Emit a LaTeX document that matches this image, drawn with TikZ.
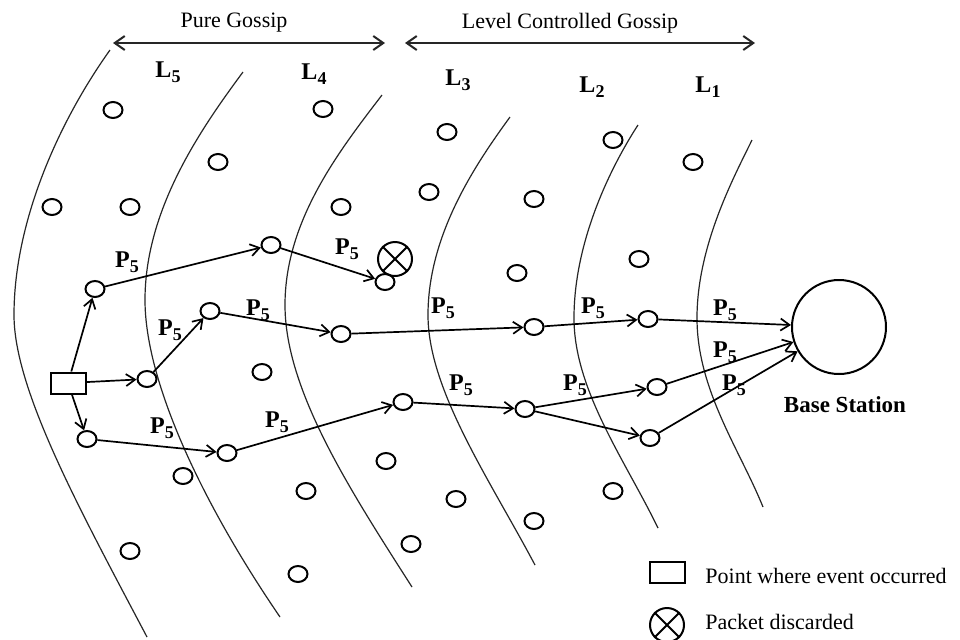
\documentclass[tikz,border=0pt]{standalone}
\usepackage{fontspec}
\setmainfont{Liberation Serif}
\usetikzlibrary{arrows.meta,shapes.geometric}
\newcommand\mysub[1]{\raisebox{-0.45ex}{\fontsize{9}{10}\selectfont #1}}
\begin{document}
\begin{tikzpicture}[x=0.5pt,y=-0.5pt,
  dot/.style={draw,ellipse,line width=1pt,minimum width=9.5pt,minimum height=8pt,inner sep=0pt},
  curve/.style={line width=0.6pt,black!85},
  arr/.style={-{Straight Barb[length=4.5pt,width=6pt]},line width=0.85pt},
  harr/.style={{Straight Barb[length=5pt,width=7pt]}-{Straight Barb[length=5pt,width=7pt]},line width=1pt,black!85},
  plab/.style={font=\fontsize{12}{13}\selectfont\bfseries,inner sep=0pt},
  llab/.style={font=\fontsize{12}{13}\selectfont\bfseries,inner sep=0pt},
  ttl/.style={font=\fontsize{11}{13}\selectfont,inner sep=0pt},
  evt/.style={draw,rectangle,line width=1pt,minimum width=17.5pt,minimum height=10.5pt,inner sep=0pt},
  xcirc/.style={draw,circle,line width=1pt,minimum size=17pt,inner sep=0pt}]
\useasboundingbox[fill=white] (0,0) rectangle (960,639);

% header
\coordinate (h1a) at (113,43); \coordinate (h1b) at (385,43);
\coordinate (h2a) at (405,43); \coordinate (h2b) at (755,43);
\draw[harr] (h1a) -- (h1b);
\draw[harr] (h2a) -- (h2b);
\node[ttl] (tpg) at (234,23) {Pure Gossip};
\node[ttl] (tlcg) at (570,23) {Level Controlled Gossip};

% level labels
\node[llab] (l5) at (168,72) {L\mysub{5}};
\node[llab] (l4) at (314,74) {L\mysub{4}};
\node[llab] (l3) at (458,80) {L\mysub{3}};
\node[llab] (l2) at (592,87) {L\mysub{2}};
\node[llab] (l1) at (708,87) {L\mysub{1}};

% level boundaries
\draw[curve] (110,50) .. controls (60,120) and (14,220) .. (14,315) .. controls (14,390) and (80,510) .. (147,637);
\draw[curve] (243,72) .. controls (200,130) and (145,210) .. (145,300) .. controls (145,380) and (200,500) .. (280,617);
\draw[curve] (382,95) .. controls (340,150) and (285,220) .. (285,305) .. controls (285,390) and (350,490) .. (412,587);
\draw[curve] (510,117) .. controls (475,165) and (428,235) .. (428,315) .. controls (428,390) and (490,480) .. (535,565);
\draw[curve] (638,125) .. controls (612,165) and (574,240) .. (574,318) .. controls (574,390) and (625,460) .. (658,528);
\draw[curve] (752,140) .. controls (735,175) and (697,245) .. (697,318) .. controls (697,390) and (740,450) .. (763,507);

% idle sensor nodes
\foreach \i/\p in {1/{(113,110)},2/{(323,109)},3/{(218,162)},4/{(52,207)},5/{(130,207)},6/{(341,207)},
  7/{(447,132)},8/{(429,192)},9/{(534,199)},10/{(517,273)},11/{(613,140)},12/{(693,162)},13/{(639,259)},
  14/{(262,372)},15/{(183,476)},16/{(306,491)},17/{(386,461)},18/{(456,499)},19/{(411,544)},
  20/{(130,551)},21/{(298,574)},22/{(534,521)},23/{(613,491)}}
  \node[dot] (n\i) at \p {};

% event and path nodes
\node[evt] (S) at (68,383) {};
\node[dot] (A) at (95,289) {};
\node[dot] (B) at (147,379) {};
\node[dot] (C) at (87,439) {};
\node[dot] (D) at (271,245) {};
\node[dot] (X) at (385,282) {};
\node[xcirc] (XC) at (395,259) {};
\draw[line width=1pt] (XC.north west) -- (XC.south east) (XC.north east) -- (XC.south west);
\node[dot] (E) at (210,311) {};
\node[dot] (F) at (341,334) {};
\node[dot] (G) at (534,327) {};
\node[dot] (H) at (648,319) {};
\node[dot] (I) at (227,453) {};
\node[dot] (J) at (403,402) {};
\node[dot] (K) at (525,409) {};
\node[dot] (L) at (657,387) {};
\node[dot] (M) at (650,438) {};
\node[draw,circle,line width=1pt,minimum size=47pt,inner sep=0pt] (BS) at (839,327) {};
\node[font=\fontsize{11.5}{13}\selectfont\bfseries,inner sep=0pt] (bst) at (845,405) {Base Station};

% connectors
\draw[arr] (S) -- (A);
\draw[arr] (S) -- (B);
\draw[arr] (S) -- (C);
\draw[arr] (A) -- (D);
\draw[arr] (D) -- (X);
\draw[arr] (B) -- (E);
\draw[arr] (E) -- (F);
\draw[arr] (F) -- (G);
\draw[arr] (G) -- (H);
\draw[arr] (H) -- (BS);
\draw[arr] (C) -- (I);
\draw[arr] (I) -- (J);
\draw[arr] (J) -- (K);
\draw[arr] (K) -- (L);
\draw[arr] (K) -- (M);
\draw[arr] (L) -- (BS);
\draw[arr] (M) -- (BS);

% P5 labels
\foreach \i/\p in {1/{(127,262)},2/{(347,249)},3/{(258,310)},4/{(170,330)},5/{(443,308)},6/{(593,308)},
  7/{(725,310)},8/{(725,352)},9/{(162,428)},10/{(277,422)},11/{(461,385)},12/{(575,385)},13/{(734,385)}}
  \node[plab] (p\i) at \p {P\mysub{5}};

% legend
\node[evt] (legS) at (667,572) {};
\node[ttl,anchor=west] (legSt) at (705,576) {Point where event occurred};
\node[xcirc] (legX) at (667,625) {};
\draw[line width=1pt] (legX.north west) -- (legX.south east) (legX.north east) -- (legX.south west);
\node[ttl,anchor=west] (legXt) at (705,622) {Packet discarded};
\end{tikzpicture}
\end{document}
